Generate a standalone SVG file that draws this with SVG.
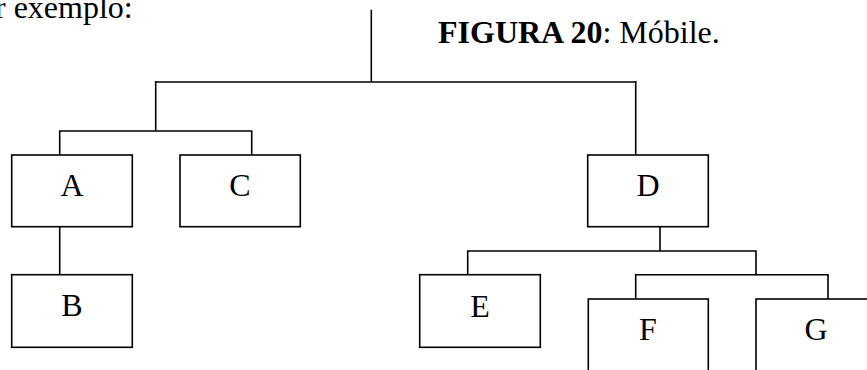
<svg xmlns="http://www.w3.org/2000/svg" width="867" height="370" viewBox="0 0 867 370">
  <style>
    .box { fill: #fff; stroke: #000; stroke-width: 1.6; }
    .wire { fill: none; stroke: #000; stroke-width: 1.6; stroke-linecap: square; }
    .lbl { font-family: "Liberation Serif", "Times New Roman", serif; font-size: 32px; fill: #000; text-anchor: middle; }
    .txt { font-family: "Liberation Serif", "Times New Roman", serif; font-size: 32px; fill: #000; }
  </style>
  <rect width="867" height="370" fill="#fff"/>

  <text class="txt" x="-5" y="18">r exemplo:</text>
  <text class="txt" x="438" y="43"><tspan font-weight="bold">FIGURA 20</tspan>: Móbile.</text>

  <g id="connectors">
    <path class="wire" d="M371.3 10.5 V82 M155.7 82 H635.7"/>
    <path class="wire" d="M155.7 82 V131 M59.7 131 H251.7 M59.7 131 V155 M251.7 131 V155"/>
    <path class="wire" d="M59.7 226.7 V274.7"/>
    <path class="wire" d="M635.7 82 V155"/>
    <path class="wire" d="M660 226.7 V251 M467.7 251 H756 M467.7 251 V274.7 M756 251 V274.7"/>
    <path class="wire" d="M635.7 274.7 H828 M635.7 274.7 V299 M828 274.7 V299"/>
  </g>

  <g id="node-A">
    <rect class="box" x="11.7" y="155" width="120.6" height="71.7"/>
    <text class="lbl" x="72" y="196">A</text>
  </g>
  <g id="node-C">
    <rect class="box" x="180" y="155" width="120.3" height="71.7"/>
    <text class="lbl" x="240" y="196">C</text>
  </g>
  <g id="node-B">
    <rect class="box" x="11.7" y="274.7" width="120.6" height="72.6"/>
    <text class="lbl" x="72" y="316">B</text>
  </g>
  <g id="node-D">
    <rect class="box" x="587.7" y="155" width="120.6" height="71.7"/>
    <text class="lbl" x="648" y="196">D</text>
  </g>
  <g id="node-E">
    <rect class="box" x="419.7" y="274.7" width="120.6" height="72.6"/>
    <text class="lbl" x="480" y="316.5">E</text>
  </g>
  <g id="node-F">
    <rect class="box" x="588.3" y="299" width="120" height="90"/>
    <text class="lbl" x="648" y="340">F</text>
  </g>
  <g id="node-G">
    <rect class="box" x="756" y="299" width="130" height="90"/>
    <text class="lbl" x="816" y="340">G</text>
  </g>
</svg>
